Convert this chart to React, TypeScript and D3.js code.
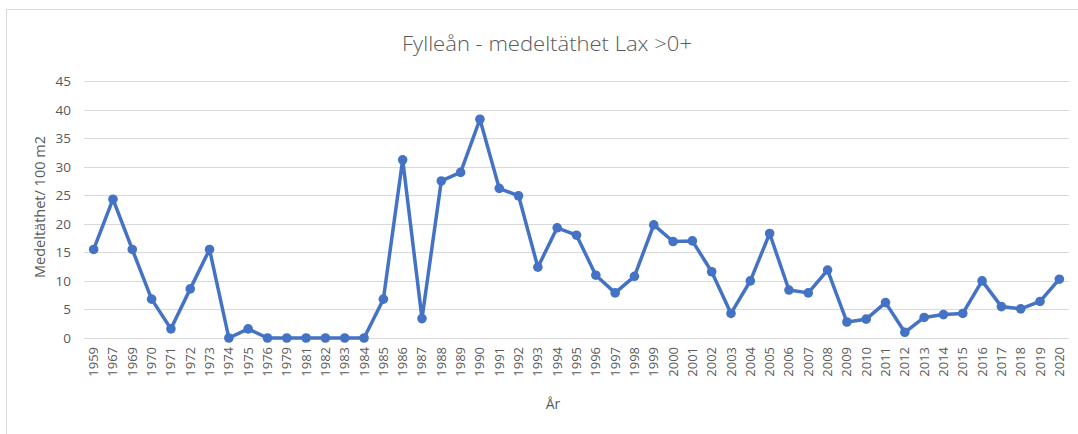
import React from "react";
import * as d3 from "d3";

const years = ["1959","1967","1969","1970","1971","1972","1973","1974","1975","1976","1979","1981","1982","1983","1984","1985","1986","1987","1988","1989","1990","1991","1992","1993","1994","1995","1996","1997","1998","1999","2000","2001","2002","2003","2004","2005","2006","2007","2008","2009","2010","2011","2012","2013","2014","2015","2016","2017","2018","2019","2020"];
const density = [15.5,24.3,15.5,6.8,1.6,8.6,15.5,0,1.6,0,0,0,0,0,0,6.8,31.2,3.4,27.5,29.0,38.3,26.2,24.9,12.4,19.3,18.0,11.0,7.9,10.8,19.8,16.9,17.0,11.6,4.3,10.0,18.3,8.4,7.9,11.9,2.8,3.3,6.2,1.0,3.6,4.1,4.3,10.0,5.5,5.1,6.4,10.3];
const yTicks = [0,5,10,15,20,25,30,35,40,45];
const title = "Fylleån - medeltäthet Lax >0+";
const yTitle = "Medeltäthet/ 100 m2";
const xTitle = "År";

export default function App() {
  const W = 1078, H = 434;
  const left = 84, right = 1069, top = 81, bottom = 338;
  const x = d3.scaleBand<string>().domain(years).range([left, right]);
  const y = d3.scaleLinear().domain([0, 45]).range([bottom, top]);
  const cx = (d: string) => (x(d) as number) + x.bandwidth() / 2;
  const line = d3.line<number>().x((_, i) => cx(years[i])).y((v) => y(v));
  const font = "'Open Sans', sans-serif";
  return (
    <svg width={W} height={H} style={{ position: "absolute", left: 0, top: 0 }} xmlns="http://www.w3.org/2000/svg">
      <rect x={0} y={0} width={W} height={H} fill="#fff" />
      <line x1={6.5} y1={9.5} x2={W} y2={9.5} stroke="#d9d9d9" strokeWidth={1} />
      <line x1={6.5} y1={9.5} x2={6.5} y2={H} stroke="#d9d9d9" strokeWidth={1} />
      <text x={547} y={51} textAnchor="middle" fontFamily={font} fontSize={21} fill="#595959" fontWeight={300} textLength={290} lengthAdjust="spacingAndGlyphs">{title}</text>
      {yTicks.map((t) => (
        <g key={t}>
          <line x1={left} x2={right} y1={Math.round(y(t)) + 0.5} y2={Math.round(y(t)) + 0.5} stroke="#d9d9d9" strokeWidth={1} />
          <text x={71} y={y(t) + 5} textAnchor="end" fontFamily={font} fontSize={13.5} fill="#595959">{t}</text>
        </g>
      ))}
      {years.map((yr) => (
        <text key={yr} transform={`translate(${cx(yr) + 4.5},${bottom + 9}) rotate(-90)`} textAnchor="end" fontFamily={font} fontSize={13} fill="#595959">{yr}</text>
      ))}
      <text transform={`translate(45,207) rotate(-90)`} textAnchor="middle" fontFamily={font} fontSize={14.5} fill="#595959">{yTitle}</text>
      <text x={553} y={409} textAnchor="middle" fontFamily={font} fontSize={14} fill="#595959">{xTitle}</text>
      <path d={line(density) || ""} fill="none" stroke="#4472C4" strokeWidth={3.5} strokeLinejoin="round" />
      {density.map((v, i) => (
        <circle key={i} cx={cx(years[i])} cy={y(v)} r={4.8} fill="#4472C4" />
      ))}
    </svg>
  );
}
